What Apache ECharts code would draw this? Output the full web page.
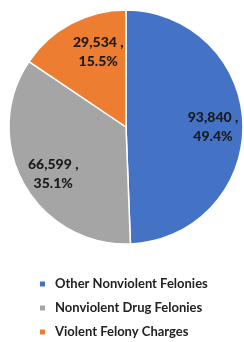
<!DOCTYPE html>
<html>
<head>
<meta charset="utf-8">
<script src="https://cdn.jsdelivr.net/npm/echarts@6/dist/echarts.min.js"></script>
<style>
  html, body { margin: 0; padding: 0; background: #fff; }
  #chart { width: 244px; height: 342px; }
</style>
</head>
<body>
<div id="chart"></div>
<script>
var categories = ["Other Nonviolent Felonies", "Nonviolent Drug Felonies", "Violent Felony Charges"];
var counts = [93840, 66599, 29534];
var colors = ["#4472C4", "#A5A5A5", "#ED7D31"];

var pieData = categories.map(function (name, i) {
  return { name: name, value: counts[i] };
});

// small nudges so the labels sit where the original's "best fit" put them
var nudge = [[-2, 2], [5, 4], [14, 4]];

var chart = echarts.init(document.getElementById("chart"));
chart.setOption({
  animation: false,
  color: colors,
  legend: {
    orient: "vertical",
    left: 33,
    top: 271,
    height: 70,
    icon: "rect",
    itemWidth: 7,
    itemHeight: 7,
    itemGap: 8,
    data: categories,
    textStyle: {
      fontFamily: "Lato",
      fontWeight: "bold",
      fontSize: 13,
      lineHeight: 16,
      color: "#222",
      padding: [0, 0, 0, 4]
    }
  },
  series: [
    {
      // visible slices
      type: "pie",
      center: [126, 127],
      radius: [0, 117],
      startAngle: 90,
      clockwise: true,
      silent: true,
      itemStyle: { borderColor: "#fff", borderWidth: 1.5 },
      label: { show: false },
      labelLine: { show: false },
      data: pieData
    },
    {
      // transparent copy used only to place labels further out
      type: "pie",
      center: [126, 127],
      radius: [0, 172],
      startAngle: 90,
      clockwise: true,
      silent: true,
      itemStyle: { color: "rgba(0,0,0,0)" },
      label: {
        show: true,
        position: "inside",
        formatter: function (p) {
          return p.value.toLocaleString("en-US") + " ,\n" + p.percent.toFixed(1) + "%";
        },
        fontFamily: "Lato",
        fontWeight: 900,
        fontSize: 14,
        lineHeight: 19,
        color: "#1a1a1a",
        align: "center"
      },
      labelLine: { show: false },
      data: pieData.map(function (d, i) {
        return { name: d.name, value: d.value, label: { offset: nudge[i] } };
      })
    }
  ]
});
</script>
</body>
</html>
